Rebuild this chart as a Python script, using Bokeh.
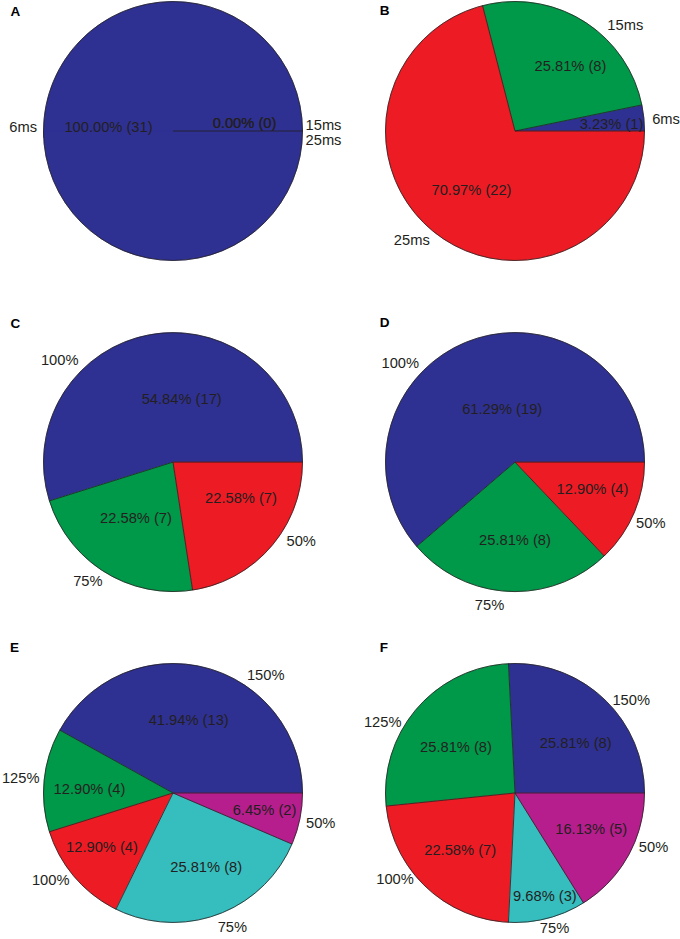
import math
from bokeh.plotting import figure
from bokeh.models import Range1d, ColumnDataSource
from bokeh.embed import file_html
from bokeh.resources import INLINE
from bokeh.core.properties import value

# ---------------- data ----------------
panel_names = ["A", "B", "C", "D", "E", "F"]
time_categories = ["6ms", "15ms", "25ms"]
load3_categories = ["100%", "75%", "50%"]
load5_categories = ["150%", "125%", "100%", "75%", "50%"]

counts_A = [31, 0, 0]
counts_B = [1, 8, 22]
counts_C = [17, 7, 7]
counts_D = [19, 8, 4]
counts_E = [13, 4, 4, 8, 2]
counts_F = [8, 8, 7, 3, 5]

slice_colors = ["#2E3192", "#009849", "#ED1C24", "#36BDBE", "#B71E8D"]

# ---------------- layout ----------------
W, H = 680, 939
R = 129.5
col_x = [172.5, 514.5]
row_y = [808.5, 477.4, 146.5]

# label centre offsets from pie centre (px, y up)
inner_offsets = {
    "A": [(-64.5, 4.5), (71.5, 8.5), (71.5, 8.5)],
    "B": [(96.5, 7.5), (55.5, 65.5), (-43.5, -58.5)],
    "C": [(8.7, 63.4), (-37.0, -55.6), (68.0, -35.6)],
    "D": [(-12.8, 53.4), (0.0, -78.3), (77.5, -26.6)],
    "E": [(15.7, 73.4), (-83.5, 3.7), (-71.0, -54.0), (33.2, -74.0), (91.5, -17.3)],
    "F": [(60.7, 49.6), (-59.0, 46.3), (-54.8, -57.0), (29.9, -102.7), (76.2, -36.0)],
}
outer_offsets = {
    "A": [(-149.8, 3.8), (150.5, 6.5), (150.5, -8.8)],
    "B": [(151.0, 12.2), (110.3, 106.2), (-103.2, -108.8)],
    "C": [(-113.3, 101.7), (-85.1, -119.0), (128.2, -79.3)],
    "D": [(-114.7, 99.0), (-25.5, -142.6), (135.8, -60.6)],
    "E": [(92.7, 117.7), (-152.3, 15.4), (-122.3, -86.6), (59.4, -134.0), (147.7, -30.0)],
    "F": [(116.2, 93.0), (-132.3, 70.6), (-120.0, -86.0), (39.5, -135.0), (138.5, -53.7)],
}
letter_positions = {
    "A": (10.0, 928.5), "B": (379.3, 929.0),
    "C": (10.0, 616.2), "D": (379.3, 617.3),
    "E": (9.5, 292.3), "F": (379.3, 291.8),
}

panels = {
    "A": (time_categories, counts_A),
    "B": (time_categories, counts_B),
    "C": (load3_categories, counts_C),
    "D": (load3_categories, counts_D),
    "E": (load5_categories, counts_E),
    "F": (load5_categories, counts_F),
}

p = figure(width=W, height=H, x_range=Range1d(0, W), y_range=Range1d(0, H),
           output_backend="svg", toolbar_location=None, min_border=0,
           x_axis_location=None, y_axis_location=None)
p.grid.visible = False
p.outline_line_color = None
p.background_fill_color = "white"
p.border_fill_color = "white"

wedge = dict(x=[], y=[], s=[], e=[], c=[])
seg = dict(x0=[], y0=[], x1=[], y1=[])
circ = dict(x=[], y=[])
inner = dict(x=[], y=[], t=[])
outer = dict(x=[], y=[], t=[])
letters = dict(x=[], y=[], t=[])

for i, name in enumerate(panel_names):
    cats, counts = panels[name]
    cx = col_x[i % 2]
    cy = row_y[i // 2]
    total = sum(counts)
    circ["x"].append(cx)
    circ["y"].append(cy)
    acc = 0
    bounds = set()
    for k, (cat, n) in enumerate(zip(cats, counts)):
        a0 = 2 * math.pi * acc / total
        acc += n
        a1 = 2 * math.pi * acc / total
        bounds.add(round(a0 % (2 * math.pi), 9))
        bounds.add(round(a1 % (2 * math.pi), 9))
        span = a1 - a0
        if span > 0:
            # a full circle is drawn as two overlapping halves (SVG arcs)
            pieces = 2 if span > 1.9 * math.pi else 1
            for j in range(pieces):
                s = a0 + span * j / pieces
                e = a0 + span * (j + 1) / pieces
                if j < pieces - 1:
                    e += 0.05
                wedge["x"].append(cx)
                wedge["y"].append(cy)
                wedge["s"].append(s)
                wedge["e"].append(e)
                wedge["c"].append(slice_colors[k])
        dx, dy = inner_offsets[name][k]
        inner["x"].append(cx + dx)
        inner["y"].append(cy + dy)
        inner["t"].append("%.2f%% (%d)" % (100.0 * n / total, n))
        ox, oy = outer_offsets[name][k]
        outer["x"].append(cx + ox)
        outer["y"].append(cy + oy)
        outer["t"].append(cat)
    for b in sorted(bounds):
        seg["x0"].append(cx)
        seg["y0"].append(cy)
        seg["x1"].append(cx + R * math.cos(b))
        seg["y1"].append(cy + R * math.sin(b))
    lx, ly = letter_positions[name]
    letters["x"].append(lx)
    letters["y"].append(ly)
    letters["t"].append(name)

p.wedge(x="x", y="y", radius=R, start_angle="s", end_angle="e",
        fill_color="c", line_color="c", line_width=0.5,
        source=ColumnDataSource(wedge))
p.segment(x0="x0", y0="y0", x1="x1", y1="y1", line_color="#231F20",
          line_width=0.8, source=ColumnDataSource(seg))
p.circle(x="x", y="y", radius=R, fill_color=None, line_color="#231F20",
         line_width=0.8, source=ColumnDataSource(circ))

font = value("Liberation Sans")
p.text(x="x", y="y", text="t", text_font=font, text_font_size="14.7px",
       text_align="center", text_baseline="middle", text_color="#231F20",
       source=ColumnDataSource(inner))
p.text(x="x", y="y", text="t", text_font=font, text_font_size="14.7px",
       text_align="center", text_baseline="middle", text_color="#231F20",
       source=ColumnDataSource(outer))
p.text(x="x", y="y", text="t", text_font=font, text_font_size="13.5px",
       text_font_style="bold", text_align="left", text_baseline="middle",
       text_color="#000000", source=ColumnDataSource(letters))

open("out.html", "w").write(file_html(p, INLINE))
